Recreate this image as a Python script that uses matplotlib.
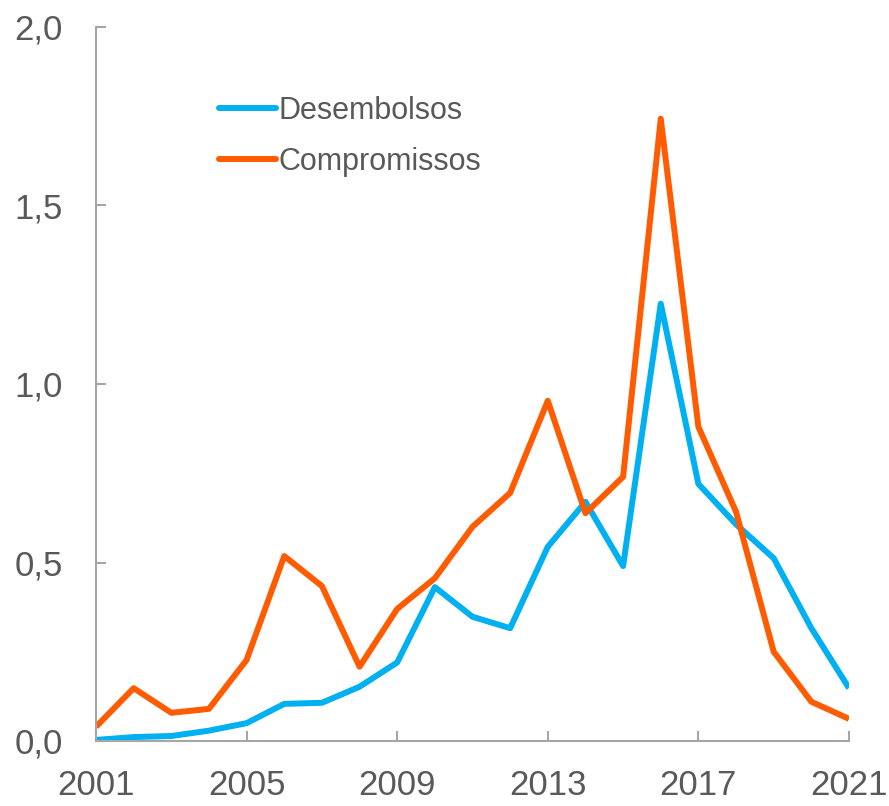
import matplotlib
matplotlib.use("Agg")
import matplotlib.pyplot as plt
from matplotlib import font_manager

years = list(range(2001, 2022))
desembolsos = [0.003, 0.011, 0.014, 0.029, 0.05, 0.104, 0.107, 0.152, 0.22, 0.431,
               0.348, 0.316, 0.544, 0.67, 0.49, 1.225, 0.72, 0.607, 0.512, 0.316, 0.148]
compromissos = [0.04, 0.148, 0.079, 0.09, 0.227, 0.518, 0.434, 0.208, 0.37, 0.456,
                0.60, 0.695, 0.953, 0.638, 0.74, 1.743, 0.88, 0.642, 0.25, 0.11, 0.062]
xticks = [2001, 2005, 2009, 2013, 2017, 2021]
yticks = [0.0, 0.5, 1.0, 1.5, 2.0]
ytick_labels = ["0,0", "0,5", "1,0", "1,5", "2,0"]

names = {f.name for f in font_manager.fontManager.ttflist}
fam = ["Liberation Sans Narrow", "DejaVu Sans"] if "Liberation Sans Narrow" in names else ["Liberation Sans", "DejaVu Sans"]
plt.rcParams['font.family'] = fam

W, H = 889, 806
fig = plt.figure(figsize=(W / 100, H / 100), dpi=100)
ax = fig.add_axes([96 / W, 1 - 741 / H, (849 - 96) / W, (741 - 27) / H])

ax.plot(years, desembolsos, color="#00B0F0", lw=4.3, label="Desembolsos",
        solid_capstyle="butt", solid_joinstyle="round")
ax.plot(years, compromissos, color="#FF5B00", lw=4.3, label="Compromissos",
        solid_capstyle="butt", solid_joinstyle="round")

ax.set_xlim(2001, 2021)
ax.set_ylim(0, 2.0)
ax.set_xticks(xticks)
ax.set_xticklabels([str(x) for x in xticks])
ax.set_yticks(yticks)
ax.set_yticklabels(ytick_labels)

for s in ["top", "right"]:
    ax.spines[s].set_visible(False)
for s in ["left", "bottom"]:
    ax.spines[s].set_color("#A6A6A6")
    ax.spines[s].set_linewidth(1.5)
ax.tick_params(axis="both", direction="in", length=7.5, width=1.5, color="#A6A6A6",
               labelcolor="#595959", labelsize=25)
ax.tick_params(axis="y", pad=24)
ax.tick_params(axis="x", pad=20)

leg = ax.legend(loc="upper left", bbox_to_anchor=(219 / W, 1 - 96 / H),
                bbox_transform=fig.transFigure, frameon=False, borderpad=0,
                borderaxespad=0, fontsize=22, handlelength=1.85, handletextpad=0.1,
                labelspacing=0.68)
for t in leg.get_texts():
    t.set_color("#595959")
for l in leg.get_lines():
    l.set_solid_capstyle("round")
    l.set_linewidth(4.3)

fig.savefig("out.png", dpi=100)
